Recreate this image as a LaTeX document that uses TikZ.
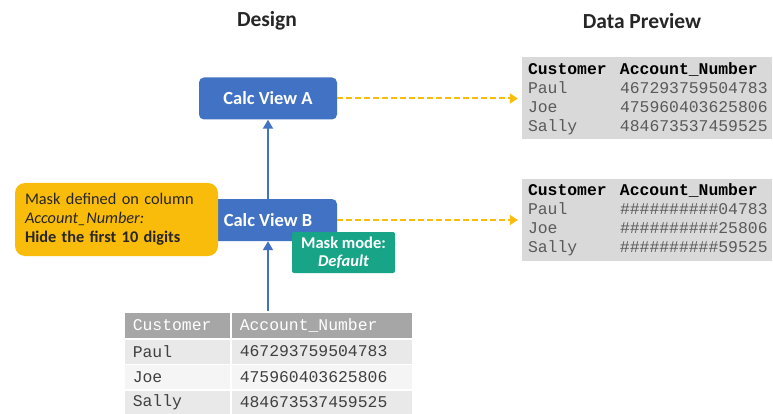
\documentclass[tikz,border=0pt]{standalone}
\usepackage{fontspec}
\setmainfont{Carlito}
\setmonofont{Liberation Mono}
\usepackage{xcolor}
\usetikzlibrary{arrows.meta}

\definecolor{viewblue}{RGB}{66,114,196}
\definecolor{maskgold}{RGB}{250,188,10}
\definecolor{modegreen}{RGB}{24,164,134}
\definecolor{previewgray}{RGB}{217,217,217}
\definecolor{previewtext}{RGB}{90,90,90}
\definecolor{headgray}{RGB}{166,166,166}
\definecolor{rowgray}{RGB}{233,233,233}
\definecolor{rowlight}{RGB}{245,245,245}
\definecolor{celltext}{RGB}{64,64,64}

\tikzset{
  titletext/.style={font=\fontsize{21.5}{25}\selectfont\bfseries, text=black!85},
  viewbox/.style={fill=viewblue, rounded corners=5pt, text=white, minimum width=138pt, minimum height=42pt, inner sep=0pt, font=\fontsize{18.5}{21}\selectfont\bfseries},
  maskbox/.style={fill=maskgold, rounded corners=10pt, text=black!85, align=left, text width=183pt, inner xsep=10pt, minimum height=73pt, font=\fontsize{16.3}{19}\selectfont},
  modebox/.style={fill=modegreen, rounded corners=2pt, text=white, align=center, minimum width=103pt, minimum height=41pt, inner sep=0pt, font=\fontsize{16.5}{18}\selectfont\bfseries},
  previewbox/.style={fill=previewgray, text=previewtext, align=left, text width=238pt, inner xsep=6pt, minimum height=82pt, font=\ttfamily\fontsize{16.4}{19}\selectfont},
  cellbox/.style={draw=white, line width=1.5pt, anchor=north west, align=left, inner xsep=9pt, inner ysep=0pt, text=celltext, font=\ttfamily\fontsize{16.4}{19}\selectfont},
  viewarrow/.style={draw=viewblue, line width=2pt, -{Triangle[length=9pt,width=10pt]}},
  previewarrow/.style={draw=maskgold, line width=2pt, dash pattern=on 6pt off 3pt, shorten >=4pt, -{Triangle[length=8pt,width=10pt]}}
}

\begin{document}
\begin{tikzpicture}[x=1pt,y=1pt,yscale=-1]
\useasboundingbox (0,0) rectangle (773,414);

% Titles
\node[titletext] (design) at (267,21) {Design};
\node[titletext] (preview) at (642,21) {Data Preview};

% Calc views
\node[viewbox] (calcA) at (268,98.5) {Calc View A};
\node[viewbox] (calcB) at (268,220) {Calc View B};

% Mask definition
\node[maskbox] (maskdef) at (116.5,219.5) {Mask defined on column\\ \textit{Account\_Number:}\\ \textbf{Hide the first 10 digits}};

% Mask mode
\node[modebox] (maskmode) at (343.5,252.5) {Mask mode:\\ \textit{Default}};

% Data previews
\node[previewbox] (prevA) at (647,98.5) {\textcolor{black}{\textbf{\makebox[92pt][l]{Customer}Account\_Number}}\\
\makebox[92pt][l]{Paul}467293759504783\\
\makebox[92pt][l]{Joe}475960403625806\\
\makebox[92pt][l]{Sally}484673537459525};
\node[previewbox] (prevB) at (647,220) {\textcolor{black}{\textbf{\makebox[92pt][l]{Customer}Account\_Number}}\\
\makebox[92pt][l]{Paul}\#\#\#\#\#\#\#\#\#\#04783\\
\makebox[92pt][l]{Joe}\#\#\#\#\#\#\#\#\#\#25806\\
\makebox[92pt][l]{Sally}\#\#\#\#\#\#\#\#\#\#59525};

% Source table
\node[cellbox, fill=headgray, text=white, text width=89pt, minimum height=27pt] (ownerhead) at (123,311) {Customer};
\node[cellbox, fill=headgray, text=white, text width=164pt, minimum height=27pt] (accthead) at (230,311) {Account\_Number};
\node[cellbox, fill=rowgray, text width=89pt, minimum height=25.5pt] (ownerpaul) at (123,338) {Paul};
\node[cellbox, fill=rowgray, text width=164pt, minimum height=25.5pt] (acctpaul) at (230,338) {467293759504783};
\node[cellbox, fill=rowlight, text width=89pt, minimum height=25.5pt] (ownerjoe) at (123,363.5) {Joe};
\node[cellbox, fill=rowlight, text width=164pt, minimum height=25.5pt] (acctjoe) at (230,363.5) {475960403625806};
\node[cellbox, fill=rowgray, text width=89pt, minimum height=25.5pt] (ownersally) at (123,389) {Sally};
\node[cellbox, fill=rowgray, text width=164pt, minimum height=25.5pt] (acctsally) at (230,389) {484673537459525};

% Connectors
\draw[viewarrow] (calcB.south |- accthead.north) -- (calcB.south);
\draw[viewarrow] (calcB.north) -- (calcA.south);
\draw[previewarrow] (calcA.east) -- (prevA.west);
\draw[previewarrow] (calcB.east) -- (prevB.west);

\end{tikzpicture}
\end{document}
